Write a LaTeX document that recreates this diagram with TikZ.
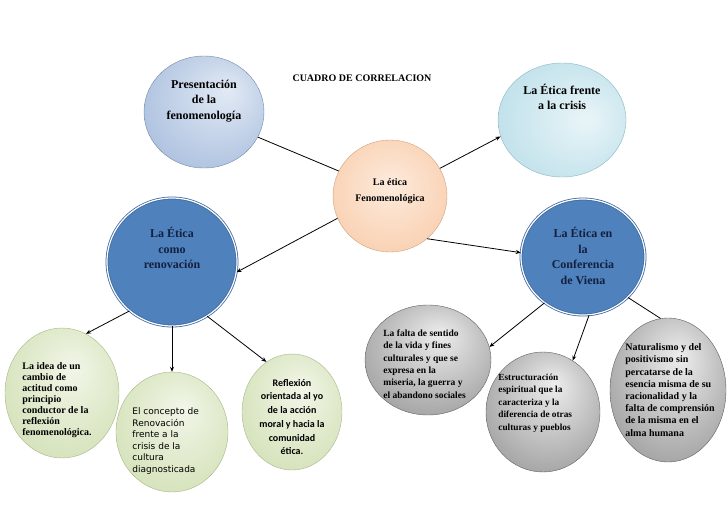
\documentclass[tikz,border=0pt]{standalone}
\usepackage{fontspec}
\setmainfont{Liberation Serif}
\newfontfamily\dejavu{DejaVu Sans}
\newfontfamily\carlito{Carlito}
\usepackage{tikz}
\usetikzlibrary{shapes.geometric, arrows.meta}

\definecolor{presin}{HTML}{E2EAF5}
\definecolor{presout}{HTML}{8FAAD3}
\definecolor{peachin}{HTML}{FDEBDD}
\definecolor{peachout}{HTML}{F6BD92}
\definecolor{crisisin}{HTML}{E9F5F8}
\definecolor{crisisout}{HTML}{A6D4E2}
\definecolor{greenin}{HTML}{F1F6E8}
\definecolor{greenout}{HTML}{C4D69E}
\definecolor{grayin}{HTML}{EDEDED}
\definecolor{grayout}{HTML}{787878}
\definecolor{bluefill}{HTML}{4F81BD}
\definecolor{blueedge}{HTML}{3E6AA0}
\definecolor{navytext}{HTML}{13203F}

\pgfdeclareradialshading{presball}{\pgfpoint{10bp}{10bp}}{color(0bp)=(presin); color(50bp)=(presout)}
\pgfdeclareradialshading{peachball}{\pgfpoint{0bp}{5bp}}{color(0bp)=(peachin); color(50bp)=(peachout)}
\pgfdeclareradialshading{crisisball}{\pgfpoint{10bp}{0bp}}{color(0bp)=(crisisin); color(50bp)=(crisisout)}
\pgfdeclareradialshading{greenball}{\pgfpoint{5bp}{10bp}}{color(0bp)=(greenin); color(50bp)=(greenout)}
\pgfdeclareradialshading{grayball}{\pgfpoint{5bp}{12bp}}{color(0bp)=(grayin); color(50bp)=(grayout)}

\begin{document}
\begin{tikzpicture}[x=1pt, y=-1pt, line width=0.8pt, >={Stealth[length=5pt,width=4pt]},
    bubble/.style={ellipse, inner sep=0pt, line width=0.4pt},
    bluebubble/.style={ellipse, inner sep=0pt, fill=bluefill, draw=blueedge, line width=0.8pt, double=white, double distance=1.2pt},
    bigtext/.style={font=\fontsize{12}{15.5}\selectfont\bfseries, align=center, inner sep=0pt},
    smalltext/.style={font=\fontsize{9.5}{12.3}\selectfont\bfseries, align=left, inner sep=0pt, anchor=west}]

    \useasboundingbox (0,0) rectangle (728,515);

    % Title
    \node[font=\fontsize{10}{12}\selectfont\bfseries] (titulo) at (362,78) {CUADRO DE CORRELACION};

    % Upper circles
    \node[bubble, shading=presball, draw=presout!80!black, minimum width=120pt, minimum height=112pt] (presentacion) at (204,112) {};
    \node[bubble, shading=peachball, draw=peachout!85!black, minimum width=114pt, minimum height=112pt] (etica) at (390,196) {};
    \node[bubble, shading=crisisball, draw=crisisout!85!black, minimum width=128pt, minimum height=114pt] (crisis) at (562,120) {};

    % Blue circles
    \node[bluebubble, minimum width=130pt, minimum height=128pt] (renovacion) at (172,262) {};
    \node[bluebubble, minimum width=124pt, minimum height=116pt] (viena) at (583,257) {};

    % Green circles
    \node[bubble, shading=greenball, draw=greenout!85!black, minimum width=114pt, minimum height=130pt] (idea) at (62,393) {};
    \node[bubble, shading=greenball, draw=greenout!85!black, minimum width=112pt, minimum height=120pt] (concepto) at (172,432) {};
    \node[bubble, shading=greenball, draw=greenout!85!black, minimum width=100pt, minimum height=116pt] (reflexion) at (292,412) {};

    % Gray circles
    \node[bubble, shading=grayball, draw=grayout!80!black, minimum width=126pt, minimum height=110pt] (falta) at (428,360) {};
    \node[bubble, shading=grayball, draw=grayout!80!black, minimum width=114pt, minimum height=120pt] (estructura) at (543,412) {};
    \node[bubble, shading=grayball, draw=grayout!80!black, minimum width=116pt, minimum height=144pt] (naturalismo) at (668,390) {};

    % Texts
    \node[bigtext] (presentacion-txt) at (204,101) {Presentación\\de la\\fenomenología};
    \node[font=\fontsize{10}{16.7}\selectfont\bfseries, align=center, inner sep=0pt] (etica-txt) at (390,191) {La ética\\Fenomenológica};
    \node[bigtext] (crisis-txt) at (562,97) {La Ética frente\\a la crisis};
    \node[bigtext, text=navytext] (renovacion-txt) at (172,248) {La Ética\\como\\renovación};
    \node[bigtext, text=navytext] (viena-txt) at (583,256) {La Ética en\\la\\Conferencia\\de Viena};

    \node[smalltext, font=\fontsize{10}{11}\selectfont\bfseries] (idea-txt) at (22,400) {La idea de un\\cambio de\\actitud como\\principio\\conductor de la\\reflexión\\fenomenológica.};
    \node[smalltext, font=\dejavu\fontsize{9}{11.5}\selectfont] (concepto-txt) at (132,441) {El concepto de\\Renovación\\frente a la\\crisis de la\\cultura\\diagnosticada};
    \node[font=\carlito\fontsize{10}{13.7}\selectfont\bfseries, align=center, inner sep=0pt] (reflexion-txt) at (292,417) {Reflexión\\orientada al yo\\de la acción\\moral y hacia la\\comunidad\\ética.};
    \node[smalltext] (falta-txt) at (383,364) {La falta de sentido\\de la vida y fines\\culturales y que se\\expresa en la\\miseria, la guerra y\\el abandono sociales};
    \node[smalltext, font=\fontsize{9.3}{12.5}\selectfont\bfseries] (estructura-txt) at (498,403) {Estructuración\\espiritual que la\\caracteriza y la\\diferencia de otras\\culturas y pueblos};
    \node[smalltext, font=\fontsize{10}{12.2}\selectfont\bfseries] (naturalismo-txt) at (625,390) {Naturalismo y del\\positivismo sin\\percatarse de la\\esencia misma de su\\racionalidad y  la\\falta de comprensión\\de la misma en  el\\alma humana};

    % Connectors
    \draw (presentacion.-25) -- (etica.154);
    \draw[->] (etica.29) -- (crisis.195);
    \draw[->] (etica.203) -- (renovacion.-9);
    \draw[->] (etica.-49) -- (viena.176);
    \draw[->] (renovacion.229) -- (idea.68);
    \draw[->] (renovacion.south) -- (concepto.north);
    \draw[->] (renovacion.-57) -- (reflexion.117);
    \draw[->] (viena.230) -- (falta.12);
    \draw[->] (viena.-84) -- (estructura.60);
    \draw (viena.-42) -- (naturalismo.96);
\end{tikzpicture}
\end{document}
